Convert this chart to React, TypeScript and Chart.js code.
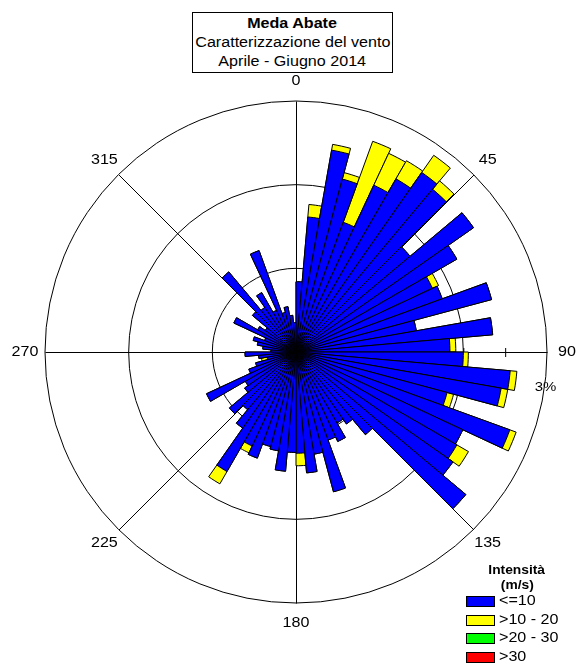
import React, { useEffect, useRef } from 'react';
import { Chart, registerables } from 'chart.js';

Chart.register(...registerables);

// 72 direction sectors of 5 degrees, clockwise from North
const SECTORS: string[] = Array.from({ length: 72 }, (_, i) => `${i * 5}-${i * 5 + 5}`);

// Frequency (%) of wind speed <= 10 m/s per sector
const BLUE: number[] = [
  0.84, 1.62, 2.45, 2.14, 1.65, 2.20, 2.39, 2.62, 2.54, 1.78, 2.59, 2.22,
  1.80, 1.86, 2.42, 1.46, 2.36, 1.84, 2.00, 2.57, 2.49, 1.87, 2.72, 2.20,
  2.22, 2.29, 2.65, 1.29, 1.05, 0.98, 1.18, 1.12, 1.73, 1.24, 1.45, 1.21,
  1.20, 1.43, 1.20, 1.17, 1.35, 1.24, 1.65, 1.11, 0.90, 1.04, 0.75, 0.70,
  1.18, 0.60, 0.50, 0.35, 0.45, 0.61, 0.30, 0.40, 0.47, 0.53, 0.40, 0.82,
  0.53, 0.45, 0.68, 1.25, 0.65, 0.82, 0.55, 1.29, 0.49, 0.55, 0.44, 0.35,
];

// Frequency (%) of wind speed > 10 - 20 m/s per sector
const YELLOW: number[] = [
  0.00, 0.15, 0.07, 0.08, 1.03, 0.42, 0.25, 0.25, 0.13, 0.00, 0.00, 0.00,
  0.08, 0.00, 0.00, 0.00, 0.00, 0.07, 0.06, 0.08, 0.08, 0.08, 0.08, 0.00,
  0.16, 0.00, 0.00, 0.00, 0.00, 0.00, 0.00, 0.00, 0.00, 0.00, 0.00, 0.15,
  0.00, 0.00, 0.00, 0.00, 0.00, 0.09, 0.17, 0.00, 0.00, 0.00, 0.00, 0.00,
  0.00, 0.00, 0.00, 0.07, 0.00, 0.00, 0.00, 0.00, 0.00, 0.00, 0.00, 0.00,
  0.00, 0.00, 0.00, 0.00, 0.00, 0.00, 0.00, 0.00, 0.00, 0.00, 0.00, 0.00,
];

const AXIS_ANGLES: number[] = [0, 45, 90, 135, 180, 225, 270, 315];
const AXIS_LABELS: string[] = ['0', '45', '90', '135', '180', '225', '270', '315'];
const R_MAX = 3;
const R_STEP = 1;
const RADIAL_LABEL = '3%';

const LEGEND_TITLE = ['Intensità', '(m/s)'];
const LEGEND_ITEMS: { label: string; color: string }[] = [
  { label: '<=10', color: '#0000ff' },
  { label: '>10 - 20', color: '#ffff00' },
  { label: '>20 - 30', color: '#00ff00' },
  { label: '>30', color: '#ff0000' },
];

const TITLE_LINES = ['Meda Abate', 'Caratterizzazione del vento', 'Aprile - Giugno 2014'];

const FONT = '"Liberation Sans", Arial, Helvetica, sans-serif';
const STRETCH = 1.15;

const windRosePlugin = {
  id: 'windRoseDecor',
  beforeDatasetsDraw(chart: any) {
    const scale = chart.scales.r;
    const ctx = chart.ctx;
    const cx = scale.xCenter;
    const cy = scale.yCenter;
    const R = scale.getDistanceFromCenterForValue(R_MAX);
    ctx.save();
    ctx.strokeStyle = '#000';
    ctx.lineWidth = 1;
    for (const deg of AXIS_ANGLES) {
      const a = ((deg - 90) * Math.PI) / 180;
      ctx.beginPath();
      ctx.moveTo(cx + 0.5, cy + 0.5);
      ctx.lineTo(cx + 0.5 + R * Math.cos(a), cy + 0.5 + R * Math.sin(a));
      ctx.stroke();
    }
    // small ticks along the East axis
    for (let v = 0.5; v < R_MAX; v += 0.5) {
      const d = scale.getDistanceFromCenterForValue(v);
      ctx.beginPath();
      ctx.moveTo(cx + d + 0.5, cy - 4);
      ctx.lineTo(cx + d + 0.5, cy + 5);
      ctx.stroke();
    }
    ctx.restore();
  },
  afterDraw(chart: any) {
    const scale = chart.scales.r;
    const ctx = chart.ctx;
    const cx = scale.xCenter;
    const cy = scale.yCenter;
    const R = scale.getDistanceFromCenterForValue(R_MAX);
    ctx.save();
    ctx.fillStyle = '#000';
    ctx.font = `14px ${FONT}`;
    ctx.textAlign = 'center';
    ctx.textBaseline = 'middle';
    const put = (text: string, x: number, y: number) => {
      ctx.save();
      ctx.translate(x, y);
      ctx.scale(STRETCH, 1);
      ctx.fillText(text, 0, 0);
      ctx.restore();
    };
    AXIS_ANGLES.forEach((deg, i) => {
      const a = ((deg - 90) * Math.PI) / 180;
      const rr = R + 20;
      put(AXIS_LABELS[i], cx + rr * Math.cos(a), cy + rr * Math.sin(a));
    });
    ctx.font = `13px ${FONT}`;
    const a3 = ((98 - 90) * Math.PI) / 180;
    put(RADIAL_LABEL, cx + (R + 1) * Math.cos(a3), cy + (R + 1) * Math.sin(a3));
    ctx.restore();
  },
};

const stretchText: React.CSSProperties = {
  display: 'inline-block',
  transform: `scaleX(${STRETCH})`,
  transformOrigin: 'center',
  whiteSpace: 'nowrap',
};

export default function App() {
  const canvasRef = useRef<HTMLCanvasElement | null>(null);

  useEffect(() => {
    const canvas = canvasRef.current;
    if (!canvas) return;
    const totals = BLUE.map((b, i) => b + YELLOW[i]);
    const chart = new Chart(canvas, {
      type: 'polarArea',
      data: {
        labels: SECTORS,
        datasets: [
          {
            label: LEGEND_ITEMS[0].label,
            data: BLUE,
            backgroundColor: LEGEND_ITEMS[0].color,
            borderColor: '#000',
            borderWidth: 1,
          },
          {
            label: LEGEND_ITEMS[1].label,
            data: totals,
            backgroundColor: LEGEND_ITEMS[1].color,
            borderColor: '#000',
            borderWidth: 1,
          },
        ],
      },
      options: {
        responsive: false,
        animation: false,
        events: [],
        startAngle: 0,
        layout: { padding: { left: 45, top: 101, right: 29, bottom: 60 } },
        plugins: {
          legend: { display: false },
          tooltip: { enabled: false },
          title: { display: false },
        },
        scales: {
          r: {
            min: 0,
            max: R_MAX,
            startAngle: 0,
            ticks: { display: false, stepSize: R_STEP },
            grid: { circular: true, color: '#000', lineWidth: 1 },
            angleLines: { display: false },
            pointLabels: { display: false },
          },
        },
      },
      plugins: [windRosePlugin],
    });
    return () => chart.destroy();
  }, []);

  return (
    <div
      style={{
        position: 'fixed',
        left: 0,
        top: 0,
        width: 576,
        height: 663,
        background: '#fff',
        fontFamily: FONT,
        color: '#000',
      }}
    >
      <canvas
        ref={canvasRef}
        width={576}
        height={663}
        style={{ position: 'absolute', left: 0, top: 0, width: 576, height: 663 }}
      />
      <div
        style={{
          position: 'absolute',
          left: 192,
          top: 12,
          width: 201,
          height: 61,
          boxSizing: 'border-box',
          border: '1px solid #000',
          background: '#fff',
          textAlign: 'center',
          fontSize: 14,
          lineHeight: '19px',
          paddingTop: 1,
        }}
      >
        <div style={{ fontWeight: 'bold' }}>
          <span style={stretchText}>{TITLE_LINES[0]}</span>
        </div>
        <div>
          <span style={stretchText}>{TITLE_LINES[1]}</span>
        </div>
        <div>
          <span style={stretchText}>{TITLE_LINES[2]}</span>
        </div>
      </div>
      <div
        style={{
          position: 'absolute',
          left: 467,
          top: 563,
          width: 100,
          textAlign: 'center',
          fontWeight: 'bold',
          fontSize: 12,
          lineHeight: '15px',
        }}
      >
        <div>
          <span style={stretchText}>{LEGEND_TITLE[0]}</span>
        </div>
        <div>
          <span style={stretchText}>{LEGEND_TITLE[1]}</span>
        </div>
      </div>
      {LEGEND_ITEMS.map((it, i) => (
        <div key={it.label}>
          <div
            style={{
              position: 'absolute',
              left: 466,
              top: 596 + i * 18.6,
              width: 27,
              height: 9,
              background: it.color,
              border: '1px solid #000',
            }}
          />
          <div
            style={{
              position: 'absolute',
              left: 499,
              top: 593 + i * 18.6,
              fontSize: 14,
              lineHeight: '15px',
              whiteSpace: 'nowrap',
              transform: `scaleX(${STRETCH})`,
              transformOrigin: 'left center',
            }}
          >
            {it.label}
          </div>
        </div>
      ))}
    </div>
  );
}
